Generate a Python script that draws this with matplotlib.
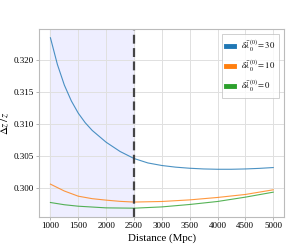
import matplotlib
matplotlib.use("Agg")
import matplotlib.pyplot as plt
from matplotlib.lines import Line2D

dist_30 = [1000, 1125, 1250, 1375, 1500, 1625, 1750, 2000, 2250, 2500, 2750, 3000, 3250, 3500, 3750, 4000, 4250, 4500, 4750, 5000]
dz_30 = [0.32352, 0.31934, 0.3161, 0.31363, 0.3117, 0.3102, 0.3090, 0.30715, 0.3057, 0.3046, 0.3039,
         0.30350, 0.30324, 0.30307, 0.30296, 0.30291, 0.30291, 0.30296, 0.30305, 0.30318]
dist_10 = [1000, 1250, 1500, 1750, 2000, 2250, 2500, 3000, 3500, 4000, 4500, 5000]
dz_10 = [0.30058, 0.2995, 0.29869, 0.2983, 0.29807, 0.29788, 0.29777, 0.29786, 0.29811, 0.29849, 0.29896, 0.29969]
dist_0 = [1000, 1250, 1500, 2000, 2500, 3000, 3500, 4000, 4500, 5000]
dz_0 = [0.29770, 0.29735, 0.29712, 0.29686, 0.29681, 0.29701, 0.29739, 0.29786, 0.29854, 0.29932]
labels = [r'$\delta\bar{\lambda}_0^{(0)} = 30$', r'$\delta\bar{\lambda}_0^{(0)} = 10$', r'$\delta\bar{\lambda}_0^{(0)} = 0$']
colors = ['#1f77b4', '#ff7f0e', '#2ca02c']
xticks = [1000, 1500, 2000, 2500, 3000, 3500, 4000, 4500, 5000]
yticks = [0.300, 0.305, 0.310, 0.315, 0.320]
span = (1000, 2500)
vline = 2500

plt.rcParams['font.family'] = ['Liberation Serif', 'DejaVu Serif']
plt.rcParams['mathtext.fontset'] = 'stix'

fig = plt.figure(figsize=(2.99, 2.48), dpi=100)
ax = fig.add_axes([0.1314, 0.1262, 0.8196, 0.7558])

for xs, ys, c, lab in zip([dist_30, dist_10, dist_0], [dz_30, dz_10, dz_0], colors, labels):
    ax.plot(xs, ys, color=c, lw=0.8, alpha=0.8, label=lab)

ax.axvspan(span[0], span[1], color='#eeeeff', zorder=0)
ax.axvline(vline, color='#333333', ls=(0, (4, 2)), lw=1.6, alpha=0.9)

ax.set_xticks(xticks)
ax.set_yticks(yticks)
ax.set_yticklabels([f'{v:.3f}' for v in yticks])
ax.tick_params(labelsize=6.5, length=2, width=0.5, color='#999999', pad=2)
ax.grid(True, color='#e0e0e0', lw=0.7)
ax.set_axisbelow(True)
for s in ax.spines.values():
    s.set_color('#bbbbbb')
    s.set_linewidth(0.8)
ax.set_xlabel('Distance (Mpc)', fontsize=7.8, labelpad=2)
ax.set_ylabel(r'$\Delta z\,/\,z$', fontsize=7.8, labelpad=2)

handles = [Line2D([0], [0], color=c, lw=3.5) for c in colors]
leg = ax.legend(handles, labels, loc='upper right', fontsize=6.2, handlelength=0.9,
                frameon=True, fancybox=False, edgecolor='#bbbbbb', borderpad=0.5,
                labelspacing=0.55, handletextpad=0.8, borderaxespad=0.6)
leg.get_frame().set_linewidth(0.6)

fig.savefig('out.png', dpi=100)
